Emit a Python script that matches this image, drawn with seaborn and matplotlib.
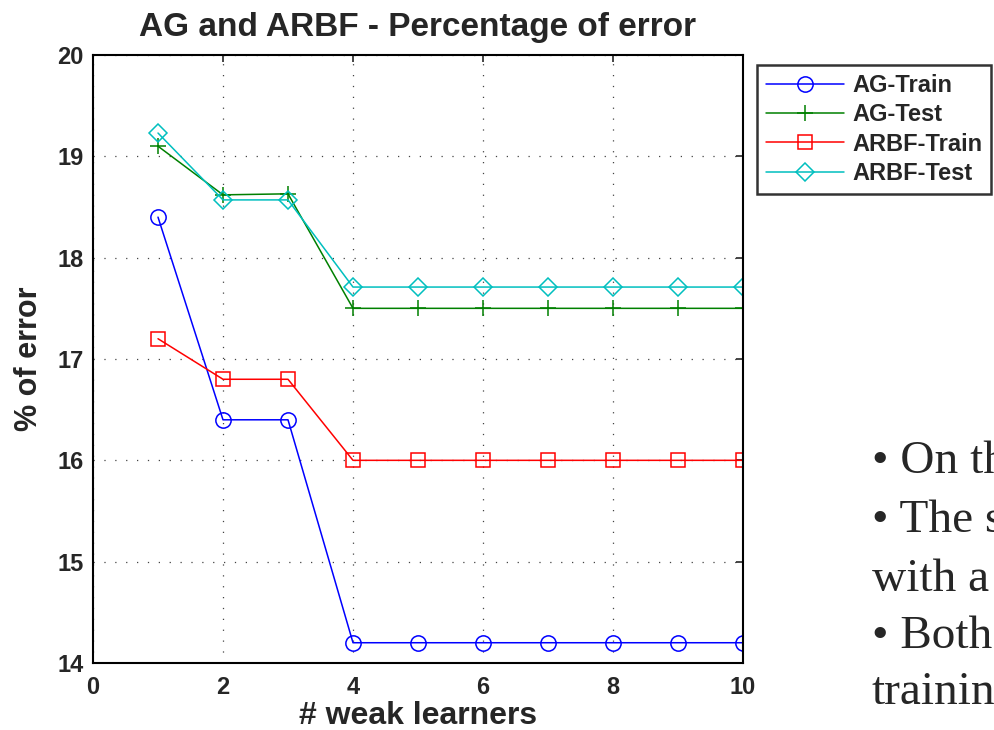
import matplotlib
matplotlib.use("Agg")
import matplotlib.pyplot as plt
import seaborn as sns
import pandas as pd

# Number of weak learners
learners = [1, 2, 3, 4, 5, 6, 7, 8, 9, 10]

# Percentage of error per method
ag_train = [18.4, 16.4, 16.4, 14.2, 14.2, 14.2, 14.2, 14.2, 14.2, 14.2]
ag_test = [19.1, 18.62, 18.63, 17.5, 17.5, 17.5, 17.5, 17.5, 17.5, 17.5]
arbf_train = [17.2, 16.8, 16.8, 16.0, 16.0, 16.0, 16.0, 16.0, 16.0, 16.0]
arbf_test = [19.23, 18.57, 18.57, 17.71, 17.71, 17.71, 17.71, 17.71, 17.71, 17.71]

series_names = ["AG-Train", "AG-Test", "ARBF-Train", "ARBF-Test"]
x_ticks = [0, 2, 4, 6, 8, 10]
y_ticks = [14, 15, 16, 17, 18, 19, 20]

bullets = ["\u2022 On th", "\u2022 The s", "with a", "\u2022 Both", "trainin"]

sns.set_style("white")
plt.rcParams["font.family"] = ["Liberation Sans", "DejaVu Sans"]

frames = []
for name, vals in zip(series_names, [ag_train, ag_test, arbf_train, arbf_test]):
    frames.append(pd.DataFrame({"learners": learners, "error": vals, "series": name}))
df = pd.concat(frames, ignore_index=True)

fig = plt.figure(figsize=(9.94, 7.3), dpi=100)
ax = fig.add_axes([93 / 994, 67 / 730, 650 / 994, 608 / 730])

styles = {
    "AG-Train": dict(color="#0000ff", marker="o", ms=11),
    "AG-Test": dict(color="#008000", marker="+", ms=12),
    "ARBF-Train": dict(color="#ff0000", marker="s", ms=9.5),
    "ARBF-Test": dict(color="#00bfbf", marker="D", ms=9.5),
}

for name in series_names:
    st = styles[name]
    sns.lineplot(
        data=df[df["series"] == name], x="learners", y="error", ax=ax,
        color=st["color"], marker=st["marker"], markersize=st["ms"],
        markerfacecolor="none", markeredgecolor=st["color"], markeredgewidth=1.1,
        linewidth=1.1, label=name, legend=False,
    )

ax.set_xlim(0, 10)
ax.set_ylim(14, 20)
ax.set_xticks(x_ticks)
ax.set_yticks(y_ticks)
ax.tick_params(direction="in", length=5, width=1.2, labelsize=17,
               top=True, right=True)
ax.tick_params(axis="x", pad=9)
ax.tick_params(axis="y", pad=7)
for lbl in ax.get_xticklabels() + ax.get_yticklabels():
    lbl.set_fontweight("bold")
ax.grid(True, color="#444444", linestyle=(0, (1, 7.7)), linewidth=0.9)
for sp in ax.spines.values():
    sp.set_color("black")
    sp.set_linewidth(1.5)

ax.set_xlabel("# weak learners", fontsize=23, fontweight="bold", labelpad=2)
ax.set_ylabel("% of error", fontsize=22, fontweight="bold", labelpad=9)
ax.set_title("AG and ARBF - Percentage of error", fontsize=24, fontweight="bold", pad=14)

handles, labels = ax.get_legend_handles_labels()
leg = fig.legend(handles, labels, loc="upper left",
                 bbox_to_anchor=(757 / 994, 1 - 65 / 730),
                 bbox_transform=fig.transFigure, frameon=True, fancybox=False,
                 prop=dict(size=17, weight="bold"), handlelength=3.3,
                 borderpad=0.38, labelspacing=0.27, handletextpad=0.35,
                 borderaxespad=0)
leg.get_frame().set_edgecolor("black")
leg.get_frame().set_linewidth(1.8)

line_y = [462, 521, 580, 637, 693]
for txt, yy in zip(bullets, line_y):
    fig.text(872 / 994, 1 - yy / 730, txt, fontsize=34,
             family=["Liberation Serif", "DejaVu Serif"], va="center", ha="left")

fig.savefig("out.png", dpi=100)
